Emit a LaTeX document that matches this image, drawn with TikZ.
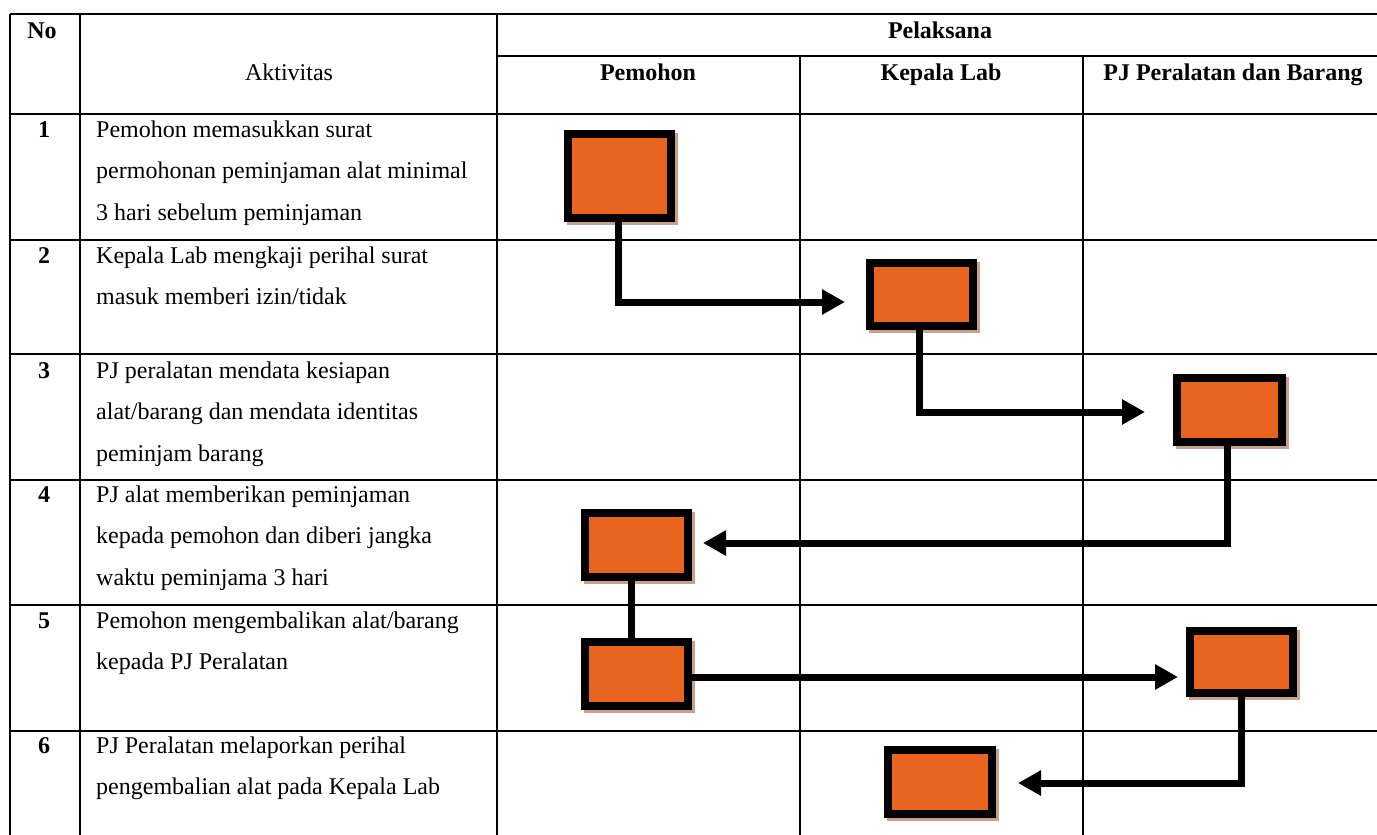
\documentclass[tikz,border=0pt]{standalone}
\usepackage{fontspec}
\setmainfont{Liberation Serif}
\usetikzlibrary{arrows.meta,shadows}
\definecolor{boxfill}{HTML}{E9651F}
\definecolor{shadowc}{HTML}{C9A08E}
\begin{document}
\begin{tikzpicture}[x=1pt,y=-1pt,
  hline/.style={line width=2pt},
  vline/.style={line width=1.7pt},
  txt/.style={anchor=base west, inner sep=0, font=\fontsize{24}{41.5}\selectfont, align=left},
  num/.style={anchor=base, inner sep=0, font=\fontsize{24}{29}\selectfont\bfseries},
  hdr/.style={anchor=base, inner sep=0, font=\fontsize{24}{29}\selectfont\bfseries},
  act/.style={draw=black, line width=8pt, fill=boxfill, inner sep=0,
    minimum width=103pt, minimum height=64pt,
    drop shadow={shadow xshift=3pt, shadow yshift=-3pt, fill=shadowc, draw=shadowc, line width=8pt, opacity=1}},
  conn/.style={line width=7pt, -{Triangle[length=23pt,width=24pt]}},
  link/.style={line width=7pt}
]
\useasboundingbox (0,0) rectangle (1377,835);
\fill[white] (0,0) rectangle (1377,835);
% table grid
\foreach \yy in {14,114,240,354,480,605,731} \draw[hline] (10,\yy) -- (1377,\yy);
\draw[hline] (497,56) -- (1377,56);
\foreach \xx in {10,80,497} \draw[vline] (\xx,14) -- (\xx,835);
\foreach \xx in {800,1083} \draw[vline] (\xx,56) -- (\xx,835);
% header
\node[hdr] (hno) at (42,38) {No};
\node[anchor=base, inner sep=0, font=\fontsize{24}{29}\selectfont] (hakt) at (289,80) {Aktivitas};
\node[hdr] (hpel) at (940,38) {Pelaksana};
\node[hdr] (hpem) at (648,80) {Pemohon};
\node[hdr] (hkep) at (941,80) {Kepala Lab};
\node[hdr] (hpj) at (1233,80) {PJ Peralatan dan Barang};
% rows (base anchor = baseline of last line)
\node[num] (n1) at (44,137) {1};
\node[txt] (r1) at (96,220) {Pemohon memasukkan surat\\permohonan peminjaman alat minimal\\3 hari sebelum peminjaman};
\node[num] (n2) at (44,263) {2};
\node[txt] (r2) at (96,304.5) {Kepala Lab mengkaji perihal surat\\masuk memberi izin/tidak};
\node[num] (n3) at (44,378) {3};
\node[txt] (r3) at (96,461) {PJ peralatan mendata kesiapan\\alat/barang dan mendata identitas\\peminjam barang};
\node[num] (n4) at (44,502) {4};
\node[txt] (r4) at (96,585) {PJ alat memberikan peminjaman\\kepada pemohon dan diberi jangka\\waktu peminjama 3 hari};
\node[num] (n5) at (44,628) {5};
\node[txt] (r5) at (96,669.5) {Pemohon mengembalikan alat/barang\\kepada PJ Peralatan};
\node[num] (n6) at (44,753) {6};
\node[txt] (r6) at (96,794.5) {PJ Peralatan melaporkan perihal\\pengembalian alat pada Kepala Lab};
% boxes
\node[act, minimum height=84pt] (b1) at (619.5,176) {};
\node[act, minimum height=63pt] (b2) at (921.5,294.5) {};
\node[act, minimum width=105pt] (b3) at (1229.5,410) {};
\node[act] (b4) at (636.5,545) {};
\node[act] (b5) at (636.5,674) {};
\node[act, minimum height=62pt] (b6) at (1241.5,662) {};
\node[act, minimum width=104pt] (b7) at (940,782) {};
% connectors
\coordinate (t1) at (845,302);
\coordinate (t2) at (1145,412);
\coordinate (t3) at (703,543);
\coordinate (t5) at (1178,677);
\coordinate (t6) at (1018,783);
\draw[conn] ([xshift=-1.5pt]b1.south) |- (t1);
\draw[conn] ([xshift=-2.5pt]b2.south) |- (t2);
\draw[conn] ([xshift=-2pt]b3.south) |- (t3);
\draw[link] ([xshift=-5pt]b4.south) -- ([xshift=-5pt]b5.north);
\draw[conn] (b5.east |- t5) -- (t5);
\draw[conn] (b6.south) |- (t6);
\end{tikzpicture}
\end{document}
